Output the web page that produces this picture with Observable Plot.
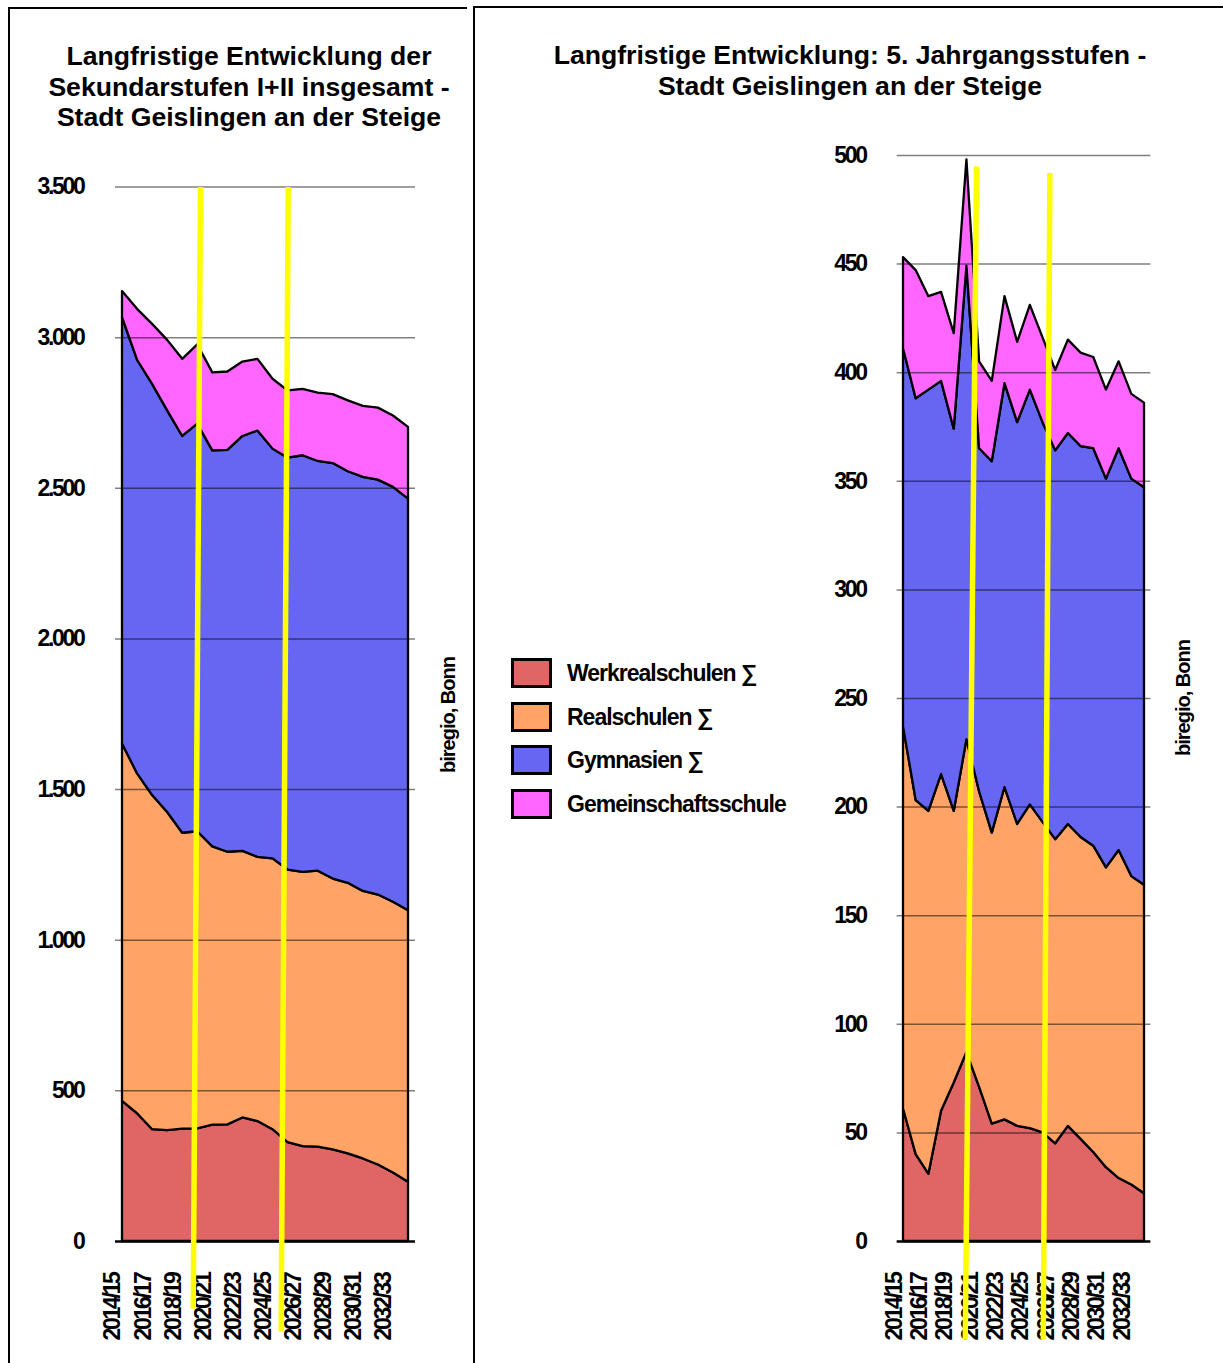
<!DOCTYPE html>
<html lang="de">
<head>
<meta charset="utf-8">
<title>Langfristige Entwicklung – Stadt Geislingen an der Steige</title>
<script src="https://cdn.jsdelivr.net/npm/d3@7"></script>
<script src="https://cdn.jsdelivr.net/npm/@observablehq/plot@0.6"></script>
<style>
  html, body { margin:0; padding:0; background:#fff; }
  body { position:relative; width:1223px; height:1363px; overflow:hidden; font-family:"Liberation Sans", Arial, sans-serif; color:#000; }
  .title { position:absolute; text-align:center; font-weight:bold; font-size:26.6px; white-space:nowrap; z-index:6; }
  .chart { position:absolute; top:0; height:1363px; }
  .credit { position:absolute; width:200px; height:24px; line-height:24px; text-align:center; font-weight:bold; font-size:20px; letter-spacing:-1px; transform:rotate(-90deg); white-space:nowrap; z-index:6; }
  .legend-item { position:absolute; left:511px; height:30px; display:flex; align-items:center; white-space:nowrap; z-index:6; }
  .swatch { width:41px; height:30px; box-sizing:border-box; border:3px solid #000; margin-right:15px; flex:none; }
  .legend-label { font-weight:bold; font-size:23px; letter-spacing:-1px; }
  .frame-line { position:absolute; background:#000; z-index:5; }
</style>
</head>
<body>
<div class="frame-line" style="left:8px; top:7px; width:459px; height:2px;"></div>
<div class="frame-line" style="left:8px; top:7px; width:2px; height:1360px;"></div>
<div class="frame-line" style="left:473px; top:6px; width:760px; height:2px;"></div>
<div class="frame-line" style="left:473px; top:6px; width:2px; height:1360px;"></div>

<div class="title" style="left:0px; width:498px; top:41px; line-height:30.5px;">Langfristige Entwicklung der<br>Sekundarstufen I+II insgesamt -<br>Stadt Geislingen an der Steige</div>
<div class="title" style="left:550px; width:600px; top:39.5px; line-height:31px;">Langfristige Entwicklung: 5. Jahrgangsstufen -<br>Stadt Geislingen an der Steige</div>

<div id="chartLeft" class="chart" style="left:0px; width:470px;"></div>
<div id="chartRight" class="chart" style="left:760px; width:463px;"></div>

<div class="credit" style="left:348px; top:703px;">biregio, Bonn</div>
<div class="credit" style="left:1083px; top:686px;">biregio, Bonn</div>

<div id="legend"></div>

<script>
// ---------- Data ----------
const schoolYears = ["2014/15","2015/16","2016/17","2017/18","2018/19","2019/20","2020/21","2021/22","2022/23","2023/24",
                     "2024/25","2025/26","2026/27","2027/28","2028/29","2029/30","2030/31","2031/32","2032/33","2033/34"];
const xTickIndex = [0, 2, 4, 6, 8, 10, 12, 14, 16, 18];

const seriesNames  = ["Werkrealschulen ∑", "Realschulen ∑", "Gymnasien ∑", "Gemeinschaftsschule"];
const seriesColors = ["#E06666", "#FFA366", "#6666F2", "#FF66FF"];

// Sekundarstufen I+II insgesamt
const sekWerkreal = [465,424,371,368,373,374,386,387,410,398,371,328,315,313,304,291,274,254,227,197];
const sekReal     = [1186,1128,1109,1056,982,986,924,905,885,877,899,905,910,916,899,898,888,896,899,901];
const sekGym      = [1415,1373,1365,1333,1317,1353,1314,1334,1377,1415,1360,1367,1383,1360,1379,1366,1374,1377,1377,1366];
const sekGem      = [87,169,199,234,256,263,259,260,247,238,232,223,220,227,229,235,236,239,237,238];
const sekTicks    = [0,500,1000,1500,2000,2500,3000,3500];

// 5. Jahrgangsstufen
const j5Werkreal = [61,40,31,60,73,87,71,54,56,53,52,50,45,53,47,41,34,29,26,22];
const j5Real     = [176,163,167,155,125,144,136,134,153,139,149,143,140,139,139,141,138,151,142,142];
const j5Gym      = [174,185,194,181,176,218,158,171,186,185,191,184,179,180,180,183,179,185,183,183];
const j5Gem      = [42,59,43,41,44,49,40,37,40,37,39,39,37,43,43,42,41,40,39,39];
const j5Ticks    = [0,50,100,150,200,250,300,350,400,450,500];

// yellow annotation strokes (in data units: year index, value)
const sekMarkerX1 = [5.18, 11.01], sekMarkerY1 = [3500, 3500], sekMarkerX2 = [4.70, 10.54], sekMarkerY2 = [-223, -299];
const j5MarkerX1  = [5.76, 11.54], j5MarkerY1  = [495, 492],   j5MarkerX2  = [4.87, 11.02], j5MarkerY2  = [-45, -45];

// ---------- Helpers ----------
const deFmt = d => d3.format(",")(d).replace(/,/g, ".");

function stackRows(cols) {
  const rows = [];
  cols.forEach((vals, s) => vals.forEach((v, i) => rows.push({i, series: seriesNames[s], value: v})));
  return rows;
}
function markerRows(x1, y1, x2, y2) {
  return x1.map((_, k) => ({x1: x1[k], y1: y1[k], x2: x2[k], y2: y2[k]}));
}

function chart({rows, ticks, markers, width, marginLeft, marginRight, marginTop, xDomain, yMax, tickPadding}) {
  return Plot.plot({
    width, height: 1363,
    marginLeft, marginRight, marginTop, marginBottom: 122,
    style: {background: "transparent", overflow: "visible", fontFamily: "'Liberation Sans', Arial, sans-serif",
            fontSize: "23px", fontWeight: "bold", letterSpacing: "-2.3px", color: "#000"},
    x: {type: "linear", domain: xDomain, axis: null},
    y: {domain: [0, yMax], label: null},
    color: {domain: seriesNames, range: seriesColors},
    marks: [
      Plot.areaY(rows, {x: "i", y: "value", z: "series", fill: "series", stroke: "#000", strokeWidth: 2.3}),
      Plot.ruleY(ticks.filter(d => d > 0), {stroke: "#000", strokeOpacity: 0.5, strokeWidth: 1.5}),
      Plot.ruleY([0], {stroke: "#000", strokeWidth: 2.5}),
      Plot.axisY({ticks, tickFormat: deFmt, tickSize: 0, tickPadding, label: null}),
      Plot.text(xTickIndex, {x: d => d, text: d => schoolYears[d], frameAnchor: "bottom",
                             rotate: -90, textAnchor: "start", dx: -2, dy: 99}),
      Plot.link(markers, {x1: "x1", y1: "y1", x2: "x2", y2: "y2", stroke: "#FFFF00", strokeWidth: 5.5})
    ]
  });
}

document.getElementById("chartLeft").append(chart({
  rows: stackRows([sekWerkreal, sekReal, sekGym, sekGem]),
  ticks: sekTicks,
  markers: markerRows(sekMarkerX1, sekMarkerY1, sekMarkerX2, sekMarkerY2),
  width: 470, marginLeft: 115, marginRight: 55, marginTop: 186.5,
  xDomain: [-0.465, 19.465], yMax: 3500, tickPadding: 32
}));

document.getElementById("chartRight").append(chart({
  rows: stackRows([j5Werkreal, j5Real, j5Gym, j5Gem]),
  ticks: j5Ticks,
  markers: markerRows(j5MarkerX1, j5MarkerY1, j5MarkerX2, j5MarkerY2),
  width: 463, marginLeft: 136.66, marginRight: 72.66, marginTop: 155,
  xDomain: [-0.5, 19.5], yMax: 500, tickPadding: 31.5
}));

// ---------- Legend ----------
const legendTops = [658, 702, 745, 789];
const legend = document.getElementById("legend");
seriesNames.forEach((name, k) => {
  const item = document.createElement("div");
  item.className = "legend-item";
  item.style.top = legendTops[k] + "px";
  const sw = document.createElement("div");
  sw.className = "swatch";
  sw.style.background = seriesColors[k];
  const lab = document.createElement("span");
  lab.className = "legend-label";
  lab.textContent = name;
  item.append(sw, lab);
  legend.append(item);
});
</script>
</body>
</html>
